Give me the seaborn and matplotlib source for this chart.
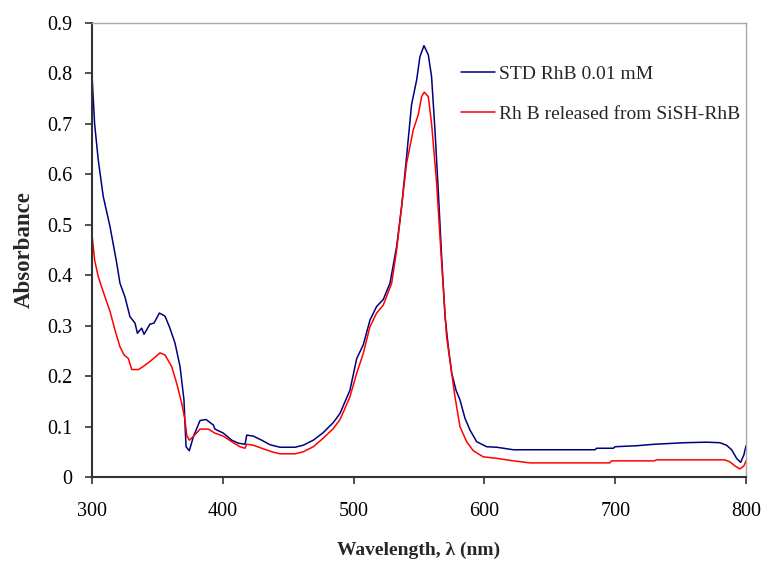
import matplotlib
matplotlib.use("Agg")
import matplotlib.pyplot as plt
import seaborn as sns
import pandas as pd

std_label = "STD RhB 0.01 mM"
rel_label = "Rh B released from SiSH-RhB"

std_wl = [300, 302, 304.8, 308.6, 313.8, 318.9, 321.4, 325.2, 329, 332.9, 334.7, 338, 339.8,
          344.3, 347.4, 351.5, 355.8, 359.6, 363.5, 367.3, 370.3, 371.9, 374.4, 377.5, 382.6,
          387.2, 392.8, 394, 400.4, 406.8, 411.9, 417, 418.3, 423.4, 429.7, 436.1, 443.7,
          455.2, 461.5, 469.2, 476.8, 484.5, 489.6, 493.4, 497.2, 502.4, 507.4, 512.5, 517.6,
          522.7, 527.8, 532.9, 536.7, 540.5, 544.3, 548.2, 550.7, 553.8, 557.1, 559.6, 562.2,
          564.7, 567.3, 569.9, 572.4, 575, 578.3, 581.3, 585.2, 589, 594.1, 601.7, 609.4,
          622.1, 657.8, 684.6, 685.8, 698.6, 699.9, 716.4, 730.4, 745.7, 753.3, 769.9, 780,
          785.1, 789, 792.8, 795.9, 798.4, 800]
std_abs = [0.797, 0.700, 0.628, 0.556, 0.496, 0.424, 0.384, 0.357, 0.318, 0.305, 0.285, 0.295,
           0.283, 0.303, 0.305, 0.325, 0.319, 0.295, 0.265, 0.219, 0.153, 0.060, 0.052, 0.080,
           0.112, 0.114, 0.103, 0.095, 0.087, 0.073, 0.067, 0.065, 0.083, 0.081, 0.073, 0.064,
           0.059, 0.059, 0.063, 0.073, 0.088, 0.108, 0.126, 0.149, 0.172, 0.235, 0.262, 0.311,
           0.338, 0.352, 0.384, 0.457, 0.536, 0.635, 0.738, 0.787, 0.833, 0.855, 0.837, 0.794,
           0.688, 0.569, 0.437, 0.318, 0.258, 0.206, 0.172, 0.153, 0.116, 0.093, 0.070, 0.060,
           0.059, 0.054, 0.054, 0.054, 0.057, 0.057, 0.060, 0.062, 0.065, 0.067, 0.068, 0.069,
           0.068, 0.063, 0.054, 0.037, 0.029, 0.044, 0.062]

rel_wl = [300, 302, 304.8, 308.6, 313.8, 317.6, 321.4, 324.5, 327.8, 330.4, 335.4, 339.2, 344.3,
          352, 355.8, 360.9, 364.7, 368.6, 371.1, 372.4, 374.4, 377.4, 382.6, 388.9, 394, 400.4,
          406.8, 413.1, 417, 418.3, 423.4, 429.7, 437.4, 443.7, 455.2, 461.5, 469.2, 476.8,
          484.5, 489.6, 493.4, 497.2, 502.4, 507.4, 512.5, 517.6, 522.7, 529.1, 532.9, 536.7,
          540.5, 545.6, 549.4, 552, 554, 557.1, 559.6, 563.5, 567.3, 571.1, 575, 577.5, 581.3,
          586.4, 591.5, 599.1, 609.4, 622.1, 634.9, 696, 697.2, 730, 731.6, 783.8, 787.7,
          791.5, 795.3, 798.4, 800]
rel_abs = [0.480, 0.430, 0.397, 0.367, 0.328, 0.291, 0.258, 0.242, 0.235, 0.213, 0.213, 0.219,
           0.229, 0.246, 0.242, 0.219, 0.186, 0.146, 0.113, 0.083, 0.073, 0.080, 0.095, 0.095,
           0.087, 0.081, 0.070, 0.060, 0.057, 0.065, 0.063, 0.057, 0.050, 0.046, 0.046, 0.050,
           0.060, 0.077, 0.096, 0.114, 0.136, 0.159, 0.206, 0.245, 0.298, 0.325, 0.341, 0.384,
           0.450, 0.536, 0.622, 0.688, 0.718, 0.754, 0.763, 0.754, 0.701, 0.582, 0.424, 0.278,
           0.206, 0.159, 0.100, 0.070, 0.052, 0.040, 0.037, 0.032, 0.028, 0.028, 0.032, 0.032,
           0.034, 0.034, 0.030, 0.022, 0.016, 0.022, 0.032]

x_ticks = [300, 400, 500, 600, 700, 800]
y_ticks = [0, 0.1, 0.2, 0.3, 0.4, 0.5, 0.6, 0.7, 0.8, 0.9]
y_tick_labels = ["0", "0.1", "0.2", "0.3", "0.4", "0.5", "0.6", "0.7", "0.8", "0.9"]

df = pd.concat([
    pd.DataFrame({"wl": std_wl, "abs": std_abs, "series": std_label}),
    pd.DataFrame({"wl": rel_wl, "abs": rel_abs, "series": rel_label}),
], ignore_index=True)

sns.set_style("white")
plt.rcParams["font.family"] = ["Liberation Serif", "DejaVu Serif"]

fig = plt.figure(figsize=(7.65, 5.62), dpi=100)
ax = fig.add_axes([92 / 765, 1 - 477 / 562, (746 - 92) / 765, (477 - 23) / 562])

sns.lineplot(data=df, x="wl", y="abs", hue="series", sort=False, estimator=None,
             palette={std_label: "#000080", rel_label: "#ff0000"}, linewidth=1.1, ax=ax)

ax.set_xlim(300, 800)
ax.set_ylim(0, 0.9)
ax.set_xticks(x_ticks)
ax.set_xticklabels([str(t) for t in x_ticks])
ax.set_yticks(y_ticks)
ax.set_yticklabels(y_tick_labels)
ax.tick_params(axis="both", direction="out", length=5, width=1.2, color="#333333",
               labelsize=14.5, labelcolor="black")
ax.tick_params(axis="x", pad=13, bottom=True)
ax.tick_params(axis="y", pad=9, left=True)

for s in ["left", "bottom"]:
    ax.spines[s].set_color("#333333")
    ax.spines[s].set_linewidth(1.5)
for s in ["top", "right"]:
    ax.spines[s].set_color("#a8a8a8")
    ax.spines[s].set_linewidth(1.0)

ax.set_xlabel("Wavelength, λ (nm)", fontsize=14, fontweight="bold", labelpad=15)
ax.set_ylabel("Absorbance", fontsize=16.5, fontweight="bold", labelpad=9)

leg = ax.legend(loc="upper left", bbox_to_anchor=(0.537, 0.946), frameon=False,
                fontsize=14, handlelength=1.75, handletextpad=0.2, labelspacing=1.15)
for line in leg.get_lines():
    line.set_linewidth(1.1)

fig.savefig("out.png", dpi=100)
